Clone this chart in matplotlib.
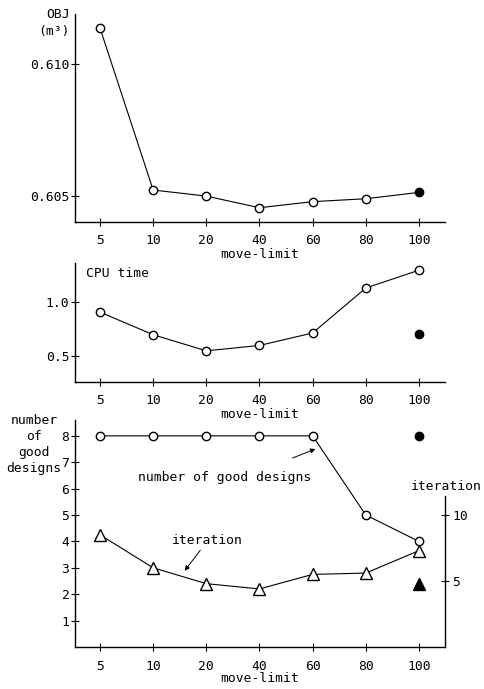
import matplotlib
matplotlib.use("Agg")
import matplotlib.pyplot as plt

plt.rcParams['font.family'] = ['DejaVu Sans Mono']

categories = ["5", "10", "20", "40", "60", "80", "100"]
obj_values = [0.61136, 0.60523, 0.60500, 0.60456, 0.60479, 0.60490, 0.60514]
cpu_values = [0.91, 0.70, 0.55, 0.60, 0.716, 1.134, 1.30]
cpu_filled = 0.71
good_values = [8, 8, 8, 8, 8, 5, 4]
good_filled = 8
iter_values = [8.5, 6.0, 4.8, 4.4, 5.5, 5.6, 7.3]
iter_filled = 4.8

W, H = 485, 689
fig = plt.figure(figsize=(W / 100, H / 100), dpi=100)

def axrect(l, r, t, b):
    return [l / W, 1 - b / H, (r - l) / W, (b - t) / H]

FS = 9.4
LW = 0.8
x = list(range(len(categories)))

def style(ax):
    for s in ['top', 'right']:
        ax.spines[s].set_visible(False)
    for s in ['left', 'bottom']:
        ax.spines[s].set_linewidth(1.0)
    ax.tick_params(direction='inout', length=6, width=0.8, labelsize=FS)
    ax.tick_params(axis='x', pad=6)
    ax.tick_params(axis='y', pad=1)
    ax.set_xticks(x)
    ax.set_xticklabels(categories)
    ax.set_xlim(-0.47, 6.49)
    ax.set_xlabel("move-limit", fontsize=FS, labelpad=0)

# Panel 1
ax1 = fig.add_axes(axrect(75, 445, 14, 222))
style(ax1)
ax1.plot(x, obj_values, '-', color='black', lw=LW)
ax1.plot(x[:-1], obj_values[:-1], 'o', mfc='white', mec='black', ms=6, mew=1.0)
ax1.plot(x[-1:], obj_values[-1:], 'o', mfc='black', mec='black', ms=6)
ax1.set_ylim(0.60402, 0.61189)
ax1.set_yticks([0.605, 0.610])
ax1.set_yticklabels(["0.605", "0.610"])
fig.text(70 / W, 1 - 8 / H, "OBJ\n(m³)", ha='right', va='top',
         fontsize=FS, linespacing=1.45)

# Panel 2
ax2 = fig.add_axes(axrect(75, 445, 263, 382))
style(ax2)
ax2.plot(x, cpu_values, 'o-', color='black', mfc='white', mec='black', ms=6, mew=1.0, lw=LW)
ax2.plot([x[-1]], [cpu_filled], 'o', mfc='black', mec='black', ms=6)
ax2.set_ylim(0.26, 1.367)
ax2.set_yticks([0.5, 1.0])
ax2.set_yticklabels(["0.5", "1.0"])
ax2.text(0.03, 0.97, "CPU time", transform=ax2.transAxes, ha='left', va='top', fontsize=FS)

# Panel 3
ax3 = fig.add_axes(axrect(75, 445, 420, 647))
style(ax3)
ax3.plot(x, good_values, 'o-', color='black', mfc='white', mec='black', ms=6, mew=1.0, lw=LW)
ax3.plot([x[-1]], [good_filled], 'o', mfc='black', mec='black', ms=6)
ax3.set_ylim(0, 8.6)
ax3.set_yticks(range(1, 9))
ax3.set_yticklabels([str(i) for i in range(1, 9)])
fig.text(34 / W, 1 - 414 / H, "number\nof\ngood\ndesigns", ha='center',
         va='top', fontsize=FS, linespacing=1.3)

ax3r = ax3.twinx()
ax3r.set_ylim(0, 17.2)
ax3r.set_xlim(-0.47, 6.49)
for s in ['top', 'left', 'bottom']:
    ax3r.spines[s].set_visible(False)
ax3r.spines['right'].set_bounds(0, 11.46)
ax3r.spines['right'].set_linewidth(1.0)
ax3r.set_yticks([5, 10])
ax3r.set_yticklabels(["5", "10"])
ax3r.tick_params(direction='inout', length=6, width=0.8, labelsize=FS, pad=2)
ax3r.plot(x, iter_values, '^-', color='black', mfc='white', mec='black', ms=8, mew=1.0, lw=LW)
ax3r.plot([x[-1]], [iter_filled], '^', mfc='black', mec='black', ms=8)
fig.text(411 / W, 1 - 487 / H, "iteration", fontsize=FS, ha='left', va='center')

# annotations
ax3.annotate("", xy=(318, H - 448), xycoords='figure pixels',
             xytext=(290, H - 459), textcoords='figure pixels',
             arrowprops=dict(arrowstyle='-|>', color='black', lw=0.7, mutation_scale=7))
fig.text(225 / W, 1 - 478 / H, "number of good designs", fontsize=FS, ha='center', va='center')
ax3.annotate("", xy=(183, H - 573), xycoords='figure pixels',
             xytext=(202, H - 548), textcoords='figure pixels',
             arrowprops=dict(arrowstyle='-|>', color='black', lw=0.7, mutation_scale=7))
fig.text(207 / W, 1 - 541 / H, "iteration", fontsize=FS, ha='center', va='center')

fig.savefig("out.png", dpi=100)
